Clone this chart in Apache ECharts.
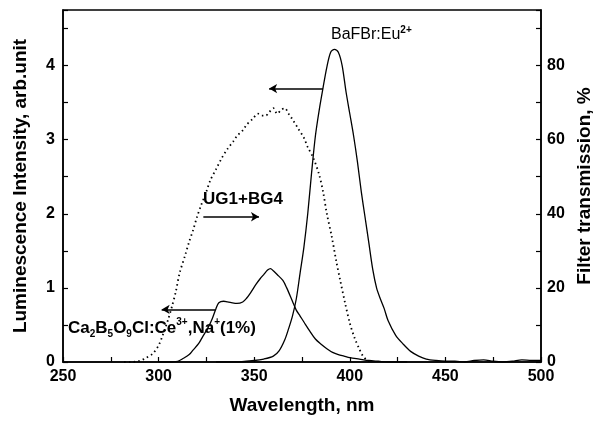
<!DOCTYPE html>
<html>
<head>
<meta charset="utf-8">
<script src="https://cdn.jsdelivr.net/npm/echarts@6/dist/echarts.min.js"></script>
<style>
  html, body { margin: 0; padding: 0; background: #fff; }
  #chart { width: 593px; height: 422px; }
</style>
</head>
<body>
<div id="chart"></div>
<script>
// Ca2B5O9Cl:Ce3+,Na+ emission (left axis)
var ceWl  = [300, 305, 310, 313, 316, 318, 321, 323, 326, 328, 330, 331.5, 334, 336, 338, 341, 344, 346, 348, 351, 353, 355, 357, 358.5, 360, 362, 365, 367, 370, 372, 374, 376, 379, 382, 385, 388, 391, 394, 397, 400, 405, 410, 415, 420, 430];
var ceInt = [0, 0, 0.01, 0.05, 0.1, 0.16, 0.25, 0.34, 0.47, 0.58, 0.72, 0.8, 0.82, 0.81, 0.8, 0.79, 0.81, 0.86, 0.93, 1.05, 1.12, 1.18, 1.24, 1.26, 1.23, 1.18, 1.1, 1.0, 0.82, 0.7, 0.62, 0.54, 0.42, 0.31, 0.24, 0.18, 0.13, 0.1, 0.08, 0.06, 0.04, 0.02, 0.01, 0, 0];

// BaFBr:Eu2+ emission (left axis)
var baWl  = [330, 340, 350, 355, 360, 363, 366, 368, 370, 372, 374, 376, 378, 380, 382, 384, 386, 388, 390, 392, 394, 396, 398, 400, 402, 404, 406, 408, 410, 412, 414, 416, 418, 420, 424, 428, 432, 436, 440, 445, 450, 455, 460, 465, 470, 475, 480, 485, 490, 495, 500];
var baInt = [0, 0, 0.02, 0.04, 0.08, 0.15, 0.3, 0.45, 0.62, 0.85, 1.2, 1.55, 2.0, 2.55, 3.05, 3.4, 3.7, 3.98, 4.18, 4.22, 4.18, 4.0, 3.65, 3.35, 3.05, 2.7, 2.3, 1.95, 1.6, 1.25, 1.0, 0.85, 0.72, 0.56, 0.36, 0.24, 0.14, 0.08, 0.04, 0.02, 0.01, 0.01, 0, 0.02, 0.03, 0.01, 0, 0.01, 0.03, 0.02, 0.02];

// UG1+BG4 filter transmission, % (right axis)
var flWl = [282, 285, 290, 293, 297, 300, 302, 305, 307, 309, 311, 314, 316, 318, 320, 322, 325, 327, 330, 333, 336, 339, 341, 344, 346, 349, 352, 354, 356, 358, 360, 362, 364, 366, 368, 370, 373, 376, 378, 381, 384, 386, 388, 390.5, 393, 395, 397.5, 400, 402.5, 405, 407, 409, 411];
var flTr = [0, 0, 0.3, 1, 2.3, 4.5, 7, 11.5, 15, 19, 24, 29, 32.5, 35.5, 39, 42, 46, 49, 52, 55, 57.5, 59.5, 61, 62.5, 64, 65.5, 67, 66.5, 66.5, 67.5, 68.5, 67, 68, 68.5, 67, 65.5, 63, 60.5, 58, 55, 50.5, 46, 40, 34, 27, 22, 16, 10.5, 6.5, 3.5, 1.5, 0.5, 0];

var xTicks = [250, 300, 350, 400, 450, 500];
var leftTicks = [0, 1, 2, 3, 4];
var rightTicks = [0, 20, 40, 60, 80];

// arrows: [x start, x end, y] in left-axis units, head at the end
var arrowBa = [386, 357.8, 3.69];
var arrowUg = [323.4, 352.5, 1.96];
var arrowCe = [329.5, 301.6, 0.71];

function zip(a, b) {
    var out = [];
    for (var i = 0; i < a.length; i++) out.push([a[i], b[i]]);
    return out;
}
function arrow(a) {
    return [{coord: [a[0], a[2]]}, {coord: [a[1], a[2]]}];
}

var font = 'Liberation Sans, Arial, sans-serif';
var nameStyle = {fontFamily: font, fontWeight: 'bold', fontSize: 19, color: '#000'};
var chart = echarts.init(document.getElementById('chart'));

var option = {
    animation: false,
    backgroundColor: '#fff',
    grid: {
        left: 63, right: 52, top: 10, bottom: 60,
        outerBoundsMode: 'none', containLabel: false,
        show: true, borderColor: '#000', borderWidth: 1.5
    },
    xAxis: {
        type: 'value', min: 250, max: 500, interval: 25,
        name: 'Wavelength, nm', nameLocation: 'middle', nameGap: 34,
        nameTextStyle: nameStyle,
        axisLine: {lineStyle: {color: '#000', width: 1.5}},
        axisTick: {inside: true, length: 5, lineStyle: {color: '#000', width: 1.2}},
        splitLine: {show: false},
        axisLabel: {
            margin: 7, color: '#000', fontFamily: font, fontWeight: 'bold', fontSize: 16,
            formatter: function (v) { return xTicks.indexOf(v) >= 0 ? String(v) : ''; }
        }
    },
    yAxis: [{
        type: 'value', min: 0, max: 4.75, interval: 0.5,
        name: 'Luminescence Intensity, arb.unit', nameLocation: 'middle', nameGap: 33,
        nameTextStyle: nameStyle,
        axisLine: {show: true, lineStyle: {color: '#000', width: 1.5}},
        axisTick: {inside: true, length: 5, lineStyle: {color: '#000', width: 1.2}},
        splitLine: {show: false},
        axisLabel: {
            margin: 8, color: '#000', fontFamily: font, fontWeight: 'bold', fontSize: 16,
            formatter: function (v) { return leftTicks.indexOf(v) >= 0 ? String(v) : ''; }
        }
    }, {
        type: 'value', min: 0, max: 95, interval: 10, position: 'right',
        name: 'Filter transmission, %', nameLocation: 'middle', nameGap: 29,
        nameTextStyle: nameStyle,
        axisLine: {show: true, lineStyle: {color: '#000', width: 1.5}},
        axisTick: {inside: true, length: 5, lineStyle: {color: '#000', width: 1.2}},
        splitLine: {show: false},
        axisLabel: {
            margin: 6, color: '#000', fontFamily: font, fontWeight: 'bold', fontSize: 16,
            formatter: function (v) { return rightTicks.indexOf(v) >= 0 ? String(v) : ''; }
        }
    }],
    series: [{
        name: 'Ca2B5O9Cl:Ce', type: 'line', showSymbol: false, smooth: 0.3,
        data: zip(ceWl, ceInt),
        lineStyle: {color: '#000', width: 1.3},
        markLine: {
            silent: true, symbol: ['none', 'arrow'], symbolSize: [7, 8],
            label: {show: false},
            lineStyle: {color: '#000', width: 1.5, type: 'solid'},
            data: [arrow(arrowCe), arrow(arrowUg), arrow(arrowBa)]
        }
    }, {
        name: 'BaFBr:Eu', type: 'line', showSymbol: false, smooth: 0.3,
        data: zip(baWl, baInt),
        lineStyle: {color: '#000', width: 1.3}
    }, {
        name: 'UG1+BG4', type: 'line', yAxisIndex: 1, showSymbol: false, smooth: 0.3,
        data: zip(flWl, flTr),
        lineStyle: {color: '#000', width: 1.8, type: [1.5, 3.2]}
    }],
    graphic: [{
        type: 'text', left: 331, top: 25,
        style: {
            text: 'BaFBr:Eu{sup|2+}',
            font: '16px ' + font, fill: '#000', lineHeight: 20,
            rich: {sup: {fontSize: 10, fontWeight: 'bold', verticalAlign: 'top', lineHeight: 20}}
        }
    }, {
        type: 'text', left: 203, top: 191,
        style: {text: 'UG1+BG4', font: 'bold 17px ' + font, fill: '#000'}
    }, {
        type: 'text', left: 68, top: 317,
        style: {
            text: 'Ca{sub|2}B{sub|5}O{sub|9}Cl:Ce{sup|3+},Na{sup|+}(1%)',
            font: 'bold 17px ' + font, fill: '#000', lineHeight: 22,
            rich: {
                sub: {fontSize: 10, fontWeight: 'bold', fontFamily: font, verticalAlign: 'bottom', lineHeight: 22},
                sup: {fontSize: 10, fontWeight: 'bold', fontFamily: font, verticalAlign: 'top', lineHeight: 22}
            }
        }
    }]
};

chart.setOption(option);
</script>
</body>
</html>
